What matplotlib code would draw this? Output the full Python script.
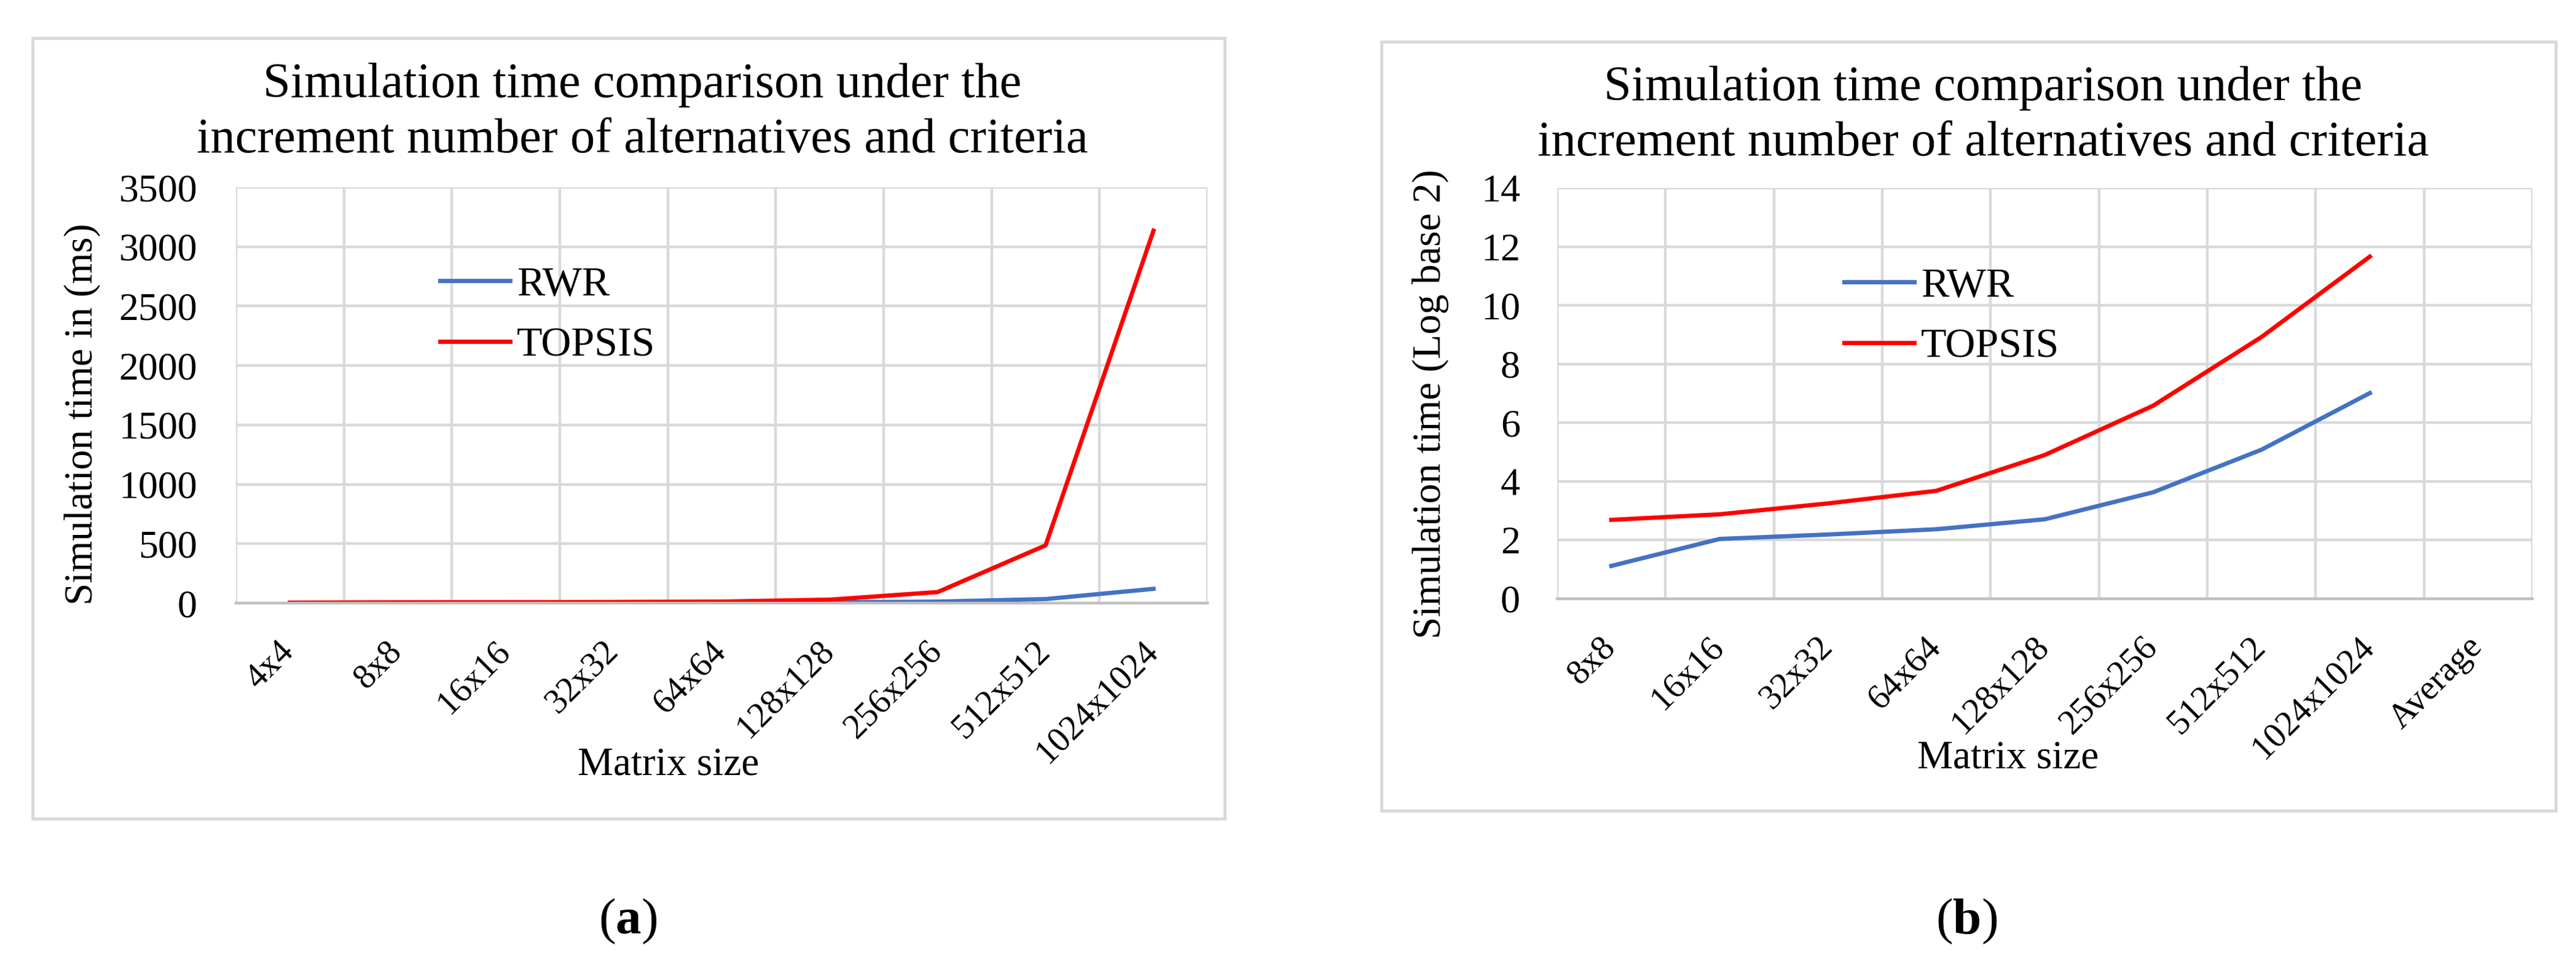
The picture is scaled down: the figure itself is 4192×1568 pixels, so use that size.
import matplotlib
matplotlib.use("Agg")
import matplotlib.pyplot as plt
from matplotlib.patches import Rectangle
from matplotlib.transforms import ScaledTranslation

plt.rcParams['font.family'] = ['Liberation Serif', 'DejaVu Serif']
plt.rcParams['mathtext.fontset'] = 'custom'
plt.rcParams['mathtext.rm'] = 'Liberation Serif'
plt.rcParams['mathtext.bf'] = 'Liberation Serif:bold'

# panel (a): simulation time in ms
sizes_a = ['4x4', '8x8', '16x16', '32x32', '64x64', '128x128', '256x256', '512x512', '1024x1024']
rwr_ms = [1.5, 2.2, 4.1, 4.6, 5.2, 6.5, 12.4, 34, 120]
topsis_ms = [4.0, 6.5, 7.4, 9.5, 12.8, 29, 93, 486, 3135]

# panel (b): log base 2 of simulation time
sizes_b = ['8x8', '16x16', '32x32', '64x64', '128x128', '256x256', '512x512', '1024x1024', 'Average']
rwr_log2 = [1.12, 2.04, 2.19, 2.37, 2.71, 3.63, 5.08, 7.01]
topsis_log2 = [2.69, 2.88, 3.25, 3.68, 4.90, 6.58, 8.92, 11.66]

title = "Simulation time comparison under the\nincrement number of alternatives and criteria"
BLUE = '#4472C4'
RED = '#FF0000'
GRID = '#D9D9D9'

W, H, DPI = 4192, 1568, 200
fig = plt.figure(figsize=(W / DPI, H / DPI), dpi=DPI)

# outer chart boxes (Excel chart area border)
for x0, y0, x1, y1 in [(53, 62, 1993, 1333), (2248, 68, 4159, 1320)]:
    fig.add_artist(Rectangle((x0 / W, 1 - y1 / H), (x1 - x0) / W, (y1 - y0) / H,
                             transform=fig.transFigure, fill=False, ec=GRID, lw=1.8))


def style(ax, cats, ymax, ystep, ylabel, ypad, ylab_xy, xlab_xy, leg_xy):
    n = len(cats)
    ax.set_xlim(-0.5, n - 0.5)
    ax.set_ylim(0, ymax)
    ax.set_xticks(range(n))
    ax.set_xticklabels(cats, rotation=45, ha='right', va='top', fontsize=20.5)
    ax.set_xticks([i - 0.5 for i in range(n + 1)], minor=True)
    ax.set_yticks(range(0, ymax + 1, ystep))
    ax.tick_params(axis='y', labelsize=23, length=0, pad=ypad)
    ax.tick_params(axis='x', which='major', length=0, pad=18.7)
    ax.tick_params(axis='x', which='minor', length=0)
    ax.grid(True, axis='y', color=GRID, lw=1.6)
    ax.grid(True, axis='x', which='minor', color=GRID, lw=1.6)
    ax.grid(False, axis='x', which='major')
    ax.set_axisbelow(True)
    for s in ['top', 'right', 'left']:
        ax.spines[s].set_visible(False)
    ax.spines['bottom'].set_color('#BFBFBF')
    ax.spines['bottom'].set_linewidth(1.6)
    for lbl in ax.get_xticklabels():
        lbl.set_transform(lbl.get_transform() + ScaledTranslation(17 / DPI, 0, fig.dpi_scale_trans))
    ax.set_ylabel(ylabel, fontsize=23.5, va='center')
    ax.yaxis.set_label_coords(*ylab_xy)
    ax.set_xlabel('Matrix size', fontsize=23.5, va='center')
    ax.xaxis.set_label_coords(*xlab_xy)
    ax.legend(loc='upper left', bbox_to_anchor=leg_xy, frameon=False, fontsize=24.5,
              handlelength=1.68, handletextpad=0.16, labelspacing=0.55, borderpad=0, borderaxespad=0)


ax1 = fig.add_axes([384 / W, 1 - 982 / H, 1581 / W, 677 / H])
ax1.plot(range(len(rwr_ms)), rwr_ms, color=BLUE, lw=2.5, label='RWR')
ax1.plot(range(len(topsis_ms)), topsis_ms, color=RED, lw=2.5, label='TOPSIS')
style(ax1, sizes_a, 3500, 500, 'Simulation time in (ms)', 22.7,
      (-0.158, 0.455), (0.445, -0.390), (0.21, 0.811))

ax2 = fig.add_axes([2534 / W, 1 - 975 / H, 1587 / W, 669 / H])
ax2.plot(range(len(rwr_log2)), rwr_log2, color=BLUE, lw=2.5, label='RWR')
ax2.plot(range(len(topsis_log2)), topsis_log2, color=RED, lw=2.5, label='TOPSIS')
style(ax2, sizes_b, 14, 2, 'Simulation time (Log base 2)', 21.6,
      (-0.130, 0.474), (0.462, -0.389), (0.294, 0.807))

fig.text(1045 / W, 1 - 102 / H, title, ha='center', va='top', fontsize=29, linespacing=1.3)
fig.text(3227 / W, 1 - 107 / H, title, ha='center', va='top', fontsize=29, linespacing=1.3)

fig.text(1022 / W, 1 - 1500 / H, r'($\mathbf{a}$)', ha='center', va='center', fontsize=30)
fig.text(3200 / W, 1 - 1500 / H, r'($\mathbf{b}$)', ha='center', va='center', fontsize=30)

fig.savefig('out.png', dpi=DPI)
